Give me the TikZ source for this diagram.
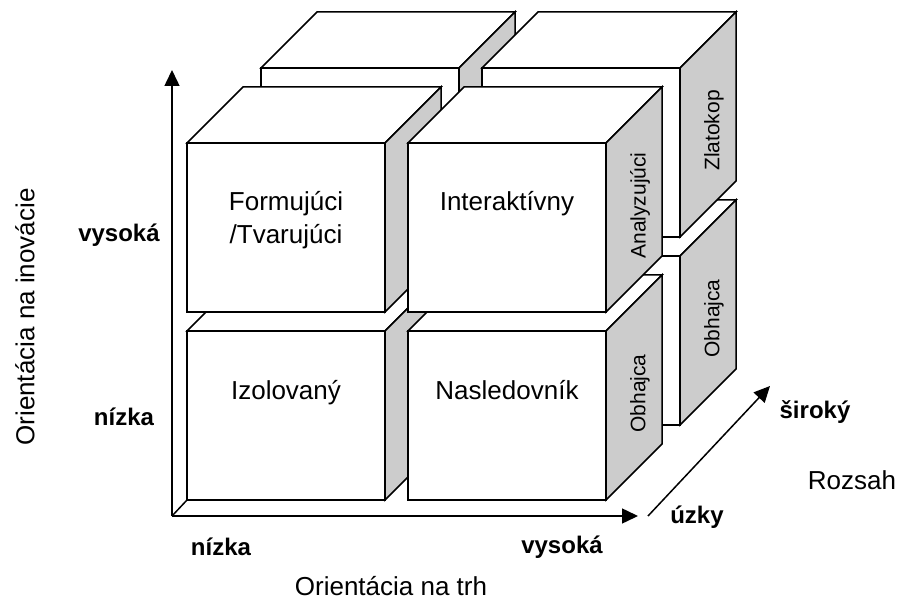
\documentclass[tikz,border=0pt]{standalone}
\usepackage{fontspec}
\setmainfont{Liberation Sans}
\usetikzlibrary{arrows.meta}
\colorlet{sidec}{black!20}
\tikzstyle{cubes} = [
  x=1pt, y=-1pt,
  line width=1.5pt,
]
\tikzstyle{face} = [draw=black, fill=white]
\tikzstyle{side} = [draw=black, fill=sidec]
\tikzstyle{axis} = [line width=1.5pt, -{Triangle[length=16pt,width=15pt]}]
\tikzstyle{big} = [font=\fontsize{26}{33}\selectfont]
\tikzstyle{small} = [font=\fontsize{21}{25}\selectfont]
\tikzstyle{bold} = [font=\fontsize{24}{29}\selectfont\bfseries]

% one cube: name, left x, top y of the front face
\newcommand{\drawcube}[3]{
  \draw[face] (#2,#3) rectangle ++(\cw,\ch);
  \draw[face] (#2,#3) -- ++(\dd,-\dd) -- ++(\cw,0) -- ++(-\dd,\dd) -- cycle;
  \draw[side] (#2+\cw,#3) -- ++(\dd,-\dd) -- ++(0,\ch) -- ++(-\dd,\dd) -- cycle;
  \coordinate (#1-front) at (#2+0.5*\cw,#3+68);
  \coordinate (#1-side) at (#2+\cw+0.5*\dd+6,#3+0.5*\ch-0.5*\dd+6);
  \coordinate (#1-corner) at (#2,#3+\ch);
}

\begin{document}
\begin{tikzpicture}[cubes]
      \def\cw{198}
      \def\ch{169}
      \def\dd{56}

      \useasboundingbox (0,0) rectangle (899,601);

      \coordinate (o) at (172,516);
      \coordinate (ytip) at (172,70);
      \coordinate (xtip) at (638,516);
      \coordinate (zfoot) at (648,516);
      \coordinate (ztip) at (770,386);

      % Back cubes
      \drawcube{bbl}{261}{256}
      \drawcube{bbr}{482}{256}
      \drawcube{btl}{261}{68}
      \drawcube{btr}{482}{68}

      % Front cubes
      \drawcube{fbl}{187}{331}
      \drawcube{fbr}{408}{331}
      \drawcube{ftl}{187}{143}
      \drawcube{ftr}{408}{143}

      % Axes
      \draw (o) -- (fbl-corner);
      \draw[axis] (o) -- (ytip);
      \draw[axis] (o) -- (xtip);
      \draw[axis] (zfoot) -- (ztip);

      % Cube labels
      \node[big, anchor=base] (izol) at (fbl-front) {Izolovaný};
      \node[big, anchor=base] (nasl) at (fbr-front) {Nasledovník};
      \node[big, anchor=base, align=center, yshift=-33pt] (form) at (ftl-front) {Formujúci\\/Tvarujúci};
      \node[big, anchor=base] (inter) at (ftr-front) {Interaktívny};
      \node[small, rotate=90] (obh1) at (fbr-side) {Obhajca};
      \node[small, rotate=90] (anal) at (ftr-side) {Analyzujúci};
      \node[small, rotate=90] (obh2) at (bbr-side) {Obhajca};
      \node[small, rotate=90] (zlat) at (btr-side) {Zlatokop};

      % Axis labels
      \node[big, rotate=90] (inov) at (25,317) {Orientácia na inovácie};
      \node[bold] (yhigh) at (119,235) {vysoká};
      \node[bold] (ylow) at (124,417) {nízka};
      \node[bold] (xlow) at (221,547) {nízka};
      \node[bold] (xhigh) at (562,547) {vysoká};
      \node[big] (trh) at (391,586) {Orientácia na trh};
      \node[bold] (wide) at (815,412) {široký};
      \node[bold] (narrow) at (697,517) {úzky};
      \node[big] (rozsah) at (852,480) {Rozsah};
    \end{tikzpicture}
\end{document}
